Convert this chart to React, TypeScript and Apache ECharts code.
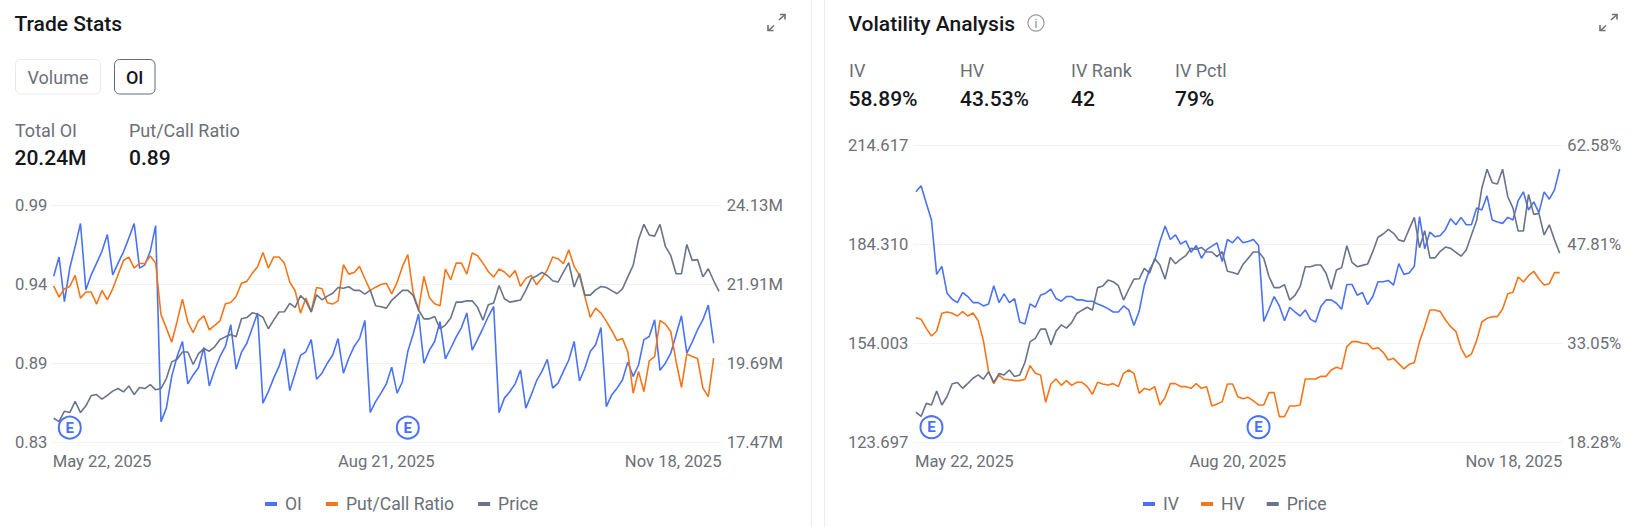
import React, { useEffect, useRef } from "react";
import * as echarts from "echarts";

const FONT = "Roboto";
const BLUE = "#4a72f5";
const ORANGE = "#f5761a";
const SLATE = "#69738a";
const MUTED = "#6b6f76";
const INK = "#14161a";
const GRID = "#f1f2f3";
const TICK_SIZE = 16.6;

const price = [
  132.9, 131.6, 135.6, 135.1, 139.4, 135.1, 137.7, 141.6, 142.0, 140.2, 141.7, 143.3, 144.3, 143.0, 145.3, 142.0, 144.7, 144.3, 145.8, 143.8,
  144.3, 148.1, 154.5, 155.5, 158.3, 158.3, 153.5, 157.7, 159.6, 158.6, 160.3, 163.1, 164.1, 165.0, 164.1, 171.0, 171.5, 173.3, 172.8, 171.6,
  167.2, 170.5, 173.6, 173.7, 176.9, 175.4, 179.9, 177.9, 173.6, 180.2, 178.3, 179.7, 180.8, 183.0, 182.7, 183.3, 181.9, 181.9, 180.5, 182.0,
  176.0, 175.6, 175.1, 178.1, 180.0, 181.9, 181.9, 180.0, 174.4, 171.0, 171.0, 171.9, 167.2, 168.6, 171.3, 177.4, 177.4, 177.9, 177.9, 175.4,
  170.5, 176.4, 177.1, 183.8, 178.7, 177.4, 177.8, 178.2, 182.0, 186.4, 187.4, 188.8, 187.6, 185.6, 185.1, 188.9, 192.5, 183.2, 188.4, 180.1,
  180.1, 182.1, 183.4, 183.0, 181.8, 180.6, 182.5, 187.1, 191.5, 201.4, 207.2, 203.1, 202.7, 207.2, 198.8, 195.3, 188.3, 188.3, 199.5, 193.4,
  193.7, 187.1, 190.2, 185.6, 181.5,
];

const openInterest = [
  22.13, 22.67, 21.42, 22.36, 22.97, 23.61, 21.75, 22.17, 22.5, 22.83, 23.3, 22.17, 22.5, 22.81, 23.2, 23.61, 22.36, 22.45, 22.83, 23.55,
  18.05, 18.43, 19.32, 19.88, 20.3, 19.11, 19.36, 19.57, 20.13, 19.05, 19.5, 19.88, 20.16, 20.77, 19.52, 20.0, 20.25, 20.67, 21.1, 18.57,
  18.89, 19.27, 19.6, 20.09, 18.92, 19.41, 19.91, 20.01, 20.35, 19.24, 19.41, 19.69, 19.92, 20.38, 19.41, 19.83, 20.16, 20.38, 20.89, 18.31,
  18.61, 18.85, 19.11, 19.58, 18.85, 19.17, 20.02, 20.51, 21.07, 19.69, 20.05, 20.3, 20.86, 19.81, 20.11, 20.42, 20.69, 21.1, 20.06, 20.36,
  20.67, 21.0, 21.28, 18.3, 18.71, 18.89, 19.11, 19.5, 18.43, 18.8, 19.2, 19.46, 19.8, 18.99, 19.13, 19.46, 19.78, 20.3, 19.19, 19.55,
  20.02, 20.21, 20.69, 18.47, 18.8, 18.99, 19.22, 19.72, 19.32, 19.64, 20.35, 20.44, 20.91, 19.49, 19.69, 19.97, 20.49, 21.02, 19.97, 20.28,
  20.63, 20.91, 21.32, 20.25,
];

const putCallRatio = [
  0.9355, 0.9279, 0.9335, 0.9351, 0.9425, 0.9272, 0.9313, 0.9313, 0.9232, 0.9324, 0.9261, 0.9335, 0.943, 0.9526, 0.9549, 0.9475, 0.9506, 0.9506, 0.9556, 0.9508,
  0.916, 0.907, 0.8975, 0.9115, 0.9265, 0.911, 0.904, 0.9121, 0.9153, 0.9058, 0.9088, 0.9119, 0.9234, 0.9243, 0.9283, 0.9373, 0.9385, 0.9439, 0.9484, 0.958,
  0.9475, 0.9549, 0.9549, 0.9508, 0.938, 0.9322, 0.9171, 0.9272, 0.9182, 0.9344, 0.9335, 0.9241, 0.9232, 0.9254, 0.9497, 0.9434, 0.9445, 0.9486, 0.9403, 0.9324,
  0.9346, 0.9364, 0.9373, 0.9301, 0.9378, 0.9486, 0.9565, 0.9306, 0.9193, 0.9418, 0.9277, 0.9234, 0.922, 0.9468, 0.9396, 0.9508, 0.9508, 0.9434, 0.9576, 0.9558,
  0.9508, 0.9452, 0.9414, 0.9468, 0.9448, 0.9414, 0.9459, 0.9351, 0.9405, 0.9425, 0.9362, 0.9407, 0.9463, 0.9549, 0.9538, 0.9504, 0.9598, 0.9486, 0.9425, 0.9283,
  0.9142, 0.9205, 0.9171, 0.9115, 0.9054, 0.8986, 0.9, 0.891, 0.8631, 0.8777, 0.8642, 0.8849, 0.8878, 0.9121, 0.9097, 0.9047, 0.8845, 0.8671, 0.8896, 0.8878,
  0.8865, 0.8665, 0.8608, 0.8867,
];

const impliedVol = [
  55.6, 56.5, 53.9, 51.4, 43.3, 44.5, 40.5, 39.6, 39.1, 40.6, 40.0, 39.1, 39.1, 38.6, 38.9, 41.6, 39.1, 40.4, 39.1, 39.7,
  36.2, 35.9, 38.9, 38.4, 40.2, 40.5, 41.1, 39.7, 39.3, 40.0, 40.0, 39.5, 39.5, 39.3, 39.3, 38.9, 38.6, 38.2, 37.7, 37.7,
  38.6, 38.0, 35.7, 37.8, 41.7, 44.0, 45.4, 48.2, 50.5, 48.5, 49.2, 47.8, 48.3, 46.6, 47.6, 45.7, 47.0, 47.5, 48.0, 45.2,
  48.5, 48.0, 48.9, 48.0, 48.2, 48.5, 47.6, 36.3, 38.1, 40.0, 38.6, 36.4, 38.4, 37.7, 37.1, 38.0, 36.6, 36.2, 38.5, 39.5,
  39.5, 39.0, 38.1, 41.8, 41.8, 40.2, 40.6, 38.8, 40.0, 42.2, 42.2, 42.4, 41.7, 44.9, 43.3, 43.5, 44.5, 51.9, 47.1, 49.6,
  48.9, 49.1, 50.0, 51.6, 50.7, 51.8, 50.7, 50.7, 53.2, 52.9, 55.0, 51.4, 51.1, 50.9, 51.8, 51.4, 54.3, 55.6, 52.9, 54.1,
  52.5, 55.6, 54.5, 55.9, 59.0,
];

const historicalVol = [
  36.85, 36.6, 35.26, 34.12, 34.87, 37.5, 37.7, 37.5, 37.1, 37.75, 37.1, 37.55, 36.4, 33.43, 28.8, 27.02, 28.3, 27.67, 27.6, 27.47,
  27.47, 27.67, 29.7, 28.56, 28.3, 24.24, 26.97, 27.72, 26.77, 27.47, 26.77, 27.22, 27.22, 26.57, 25.43, 27.22, 26.97, 26.82, 27.02, 26.57,
  28.56, 29.06, 28.56, 25.58, 26.32, 26.08, 26.57, 23.84, 24.98, 27.02, 27.02, 26.57, 26.57, 26.32, 27.02, 26.32, 26.57, 23.69, 23.99, 24.34,
  26.97, 26.97, 25.08, 24.78, 24.98, 24.44, 23.84, 23.84, 25.68, 25.68, 22.1, 22.1, 23.69, 23.69, 23.84, 27.72, 27.72, 27.72, 28.11, 28.11,
  29.06, 29.45, 29.21, 32.53, 33.28, 33.28, 33.03, 32.98, 32.18, 32.38, 31.69, 30.55, 30.79, 30.0, 29.21, 29.9, 30.15, 33.28, 35.51, 37.99,
  37.99, 37.75, 36.51, 35.51, 34.82, 32.28, 30.94, 31.44, 33.43, 36.21, 36.75, 37.0, 37.0, 38.14, 40.43, 40.63, 42.91, 42.17, 43.11, 43.76,
  42.61, 41.72, 41.92, 43.56, 43.56,
];

const monthNames = ["Jan", "Feb", "Mar", "Apr", "May", "Jun", "Jul", "Aug", "Sep", "Oct", "Nov", "Dec"];
const marketHolidays = ["2025-05-26", "2025-06-19", "2025-07-04", "2025-09-01"];

function tradingDays(): string[] {
  const out: string[] = [];
  const d = new Date(Date.UTC(2025, 4, 22));
  const end = Date.UTC(2025, 10, 18);
  while (d.getTime() <= end) {
    const wd = d.getUTCDay();
    if (wd !== 0 && wd !== 6 && !marketHolidays.includes(d.toISOString().slice(0, 10))) {
      out.push(`${monthNames[d.getUTCMonth()]} ${d.getUTCDate()}, ${d.getUTCFullYear()}`);
    }
    d.setUTCDate(d.getUTCDate() + 1);
  }
  return out;
}

const tradeDates = tradingDays();
const volDates = tradeDates.map((s, i) => (i === 62 ? "Aug 20, 2025" : s));
const shownDateIndexes = [0, 62, 124];
const earningsIndexes = [3, 66];

const putCallTicks = [0.83, 0.88333, 0.93667, 0.99];
const putCallLabels = ["0.83", "0.89", "0.94", "0.99"];
const oiTicks = [17.47, 19.69, 21.91, 24.13];
const oiLabels = ["17.47M", "19.69M", "21.91M", "24.13M"];
const priceTicks = [123.697, 154.003, 184.31, 214.617];
const priceLabels = ["123.697", "154.003", "184.310", "214.617"];
const volTicks = [18.28, 33.05, 47.81, 62.58];
const volLabels = ["18.28%", "33.05%", "47.81%", "62.58%"];

function yAxis(gridIndex: number, position: string, ticks: number[], labels: string[], split: boolean, margin: number, align: string) {
  return {
    type: "value",
    gridIndex,
    position,
    min: ticks[0],
    max: ticks[ticks.length - 1],
    axisLine: { show: false },
    axisTick: { show: false, customValues: ticks },
    splitLine: { show: split, lineStyle: { color: GRID, width: 1 } },
    axisLabel: {
      customValues: ticks,
      formatter: (v: number) => {
        let best = 0;
        ticks.forEach((t, i) => {
          if (Math.abs(t - v) < Math.abs(ticks[best] - v)) best = i;
        });
        return labels[best];
      },
      color: MUTED,
      fontFamily: FONT,
      fontSize: TICK_SIZE,
      margin,
      align,
      verticalAlign: "middle",
      padding: [5, 0, 0, 0],
    },
  };
}

function xAxis(gridIndex: number, data: string[]) {
  const tickStyle = { color: MUTED, fontFamily: FONT, fontSize: TICK_SIZE };
  return {
    type: "category",
    gridIndex,
    data,
    boundaryGap: true,
    axisLine: { show: false },
    axisTick: { show: false },
    splitLine: { show: false },
    axisLabel: {
      interval: (i: number) => shownDateIndexes.includes(i),
      ...tickStyle,
      margin: 11,
      alignMinLabel: "left",
      alignMaxLabel: "right",
      showMinLabel: true,
      showMaxLabel: true,
      formatter: (v: string, i: number) => {
        if (i === 0) return `{first|${v}}`;
        if (i === data.length - 1) return `{last|${v}}`;
        return v;
      },
      rich: {
        first: { ...tickStyle, padding: [0, 0, 0, -1] },
        last: { ...tickStyle, padding: [0, -2.5, 0, 0] },
      },
    },
  };
}

function line(name: string, data: number[], color: string, xAxisIndex: number, yAxisIndex: number) {
  return {
    type: "line",
    name,
    data,
    xAxisIndex,
    yAxisIndex,
    symbol: "none",
    smooth: false,
    lineStyle: { color, width: 1.6 },
    itemStyle: { color },
    z: 3,
  };
}

function earnings(xAxisIndex: number, yAxisIndex: number, level: number) {
  return {
    type: "scatter",
    name: "Earnings",
    xAxisIndex,
    yAxisIndex,
    data: earningsIndexes.map((i) => [i, level]),
    symbol: "circle",
    symbolSize: 22,
    itemStyle: { color: "#ffffff", borderColor: BLUE, borderWidth: 2, opacity: 1 },
    label: { show: true, position: "inside", formatter: "E", color: BLUE, fontFamily: FONT, fontSize: 15, fontWeight: 700 },
    z: 5,
  };
}

function legend(items: string[], left: number, itemGap: number) {
  return {
    data: items,
    left,
    top: 495,
    padding: 0,
    orient: "horizontal",
    icon: "rect",
    itemWidth: 12,
    itemHeight: 4,
    itemGap,
    selectedMode: false,
    textStyle: { color: MUTED, fontFamily: FONT, fontSize: 17.6, padding: [0, 0, 0, 3] },
  };
}

function text(str: string, x: number, y: number, font: string, fill: string, align = "left") {
  return {
    type: "text",
    x,
    y,
    silent: true,
    style: { text: str, fill, font, textAlign: align, textVerticalAlign: "middle" },
  };
}

function expandIcon(dx: number) {
  const stroke = { stroke: "#6f6f6f", lineWidth: 1.6, fill: "none" };
  return [
    { type: "line", x: dx, shape: { x1: 779, y1: 20, x2: 784.5, y2: 15 }, style: stroke },
    { type: "polyline", x: dx, shape: { points: [[780, 14.5], [785, 14.5], [785, 19.5]] }, style: stroke },
    { type: "line", x: dx, shape: { x1: 774, y1: 25.5, x2: 768.5, y2: 30.5 }, style: stroke },
    { type: "polyline", x: dx, shape: { points: [[768, 25], [768, 30.5], [773.5, 30.5]] }, style: stroke },
  ];
}

const TITLE = `500 21px ${FONT}`;
const LABEL = `400 18px ${FONT}`;
const VALUE = `500 21px ${FONT}`;

function buildOption() {
  return {
    animation: false,
    backgroundColor: "#ffffff",
    grid: [
      { left: 51, top: 205, width: 670.7, height: 237.3, containLabel: false },
      { left: 913.3, top: 145, width: 649, height: 297.3, containLabel: false },
    ],
    xAxis: [xAxis(0, tradeDates), xAxis(1, volDates)],
    yAxis: [
      yAxis(0, "left", putCallTicks, putCallLabels, true, 36, "left"),
      yAxis(0, "right", oiTicks, oiLabels, false, 5, "left"),
      { ...yAxis(0, "left", priceTicks, priceLabels, false, 5, "right"), show: false },
      yAxis(1, "left", priceTicks, priceLabels, true, 5, "right"),
      yAxis(1, "right", volTicks, volLabels, false, 5, "left"),
    ],
    legend: [legend(["OI", "Put/Call Ratio", "Price"], 265, 24), legend(["IV", "HV", "Price"], 1143, 22)],
    series: [
      line("OI", openInterest, BLUE, 0, 1),
      line("Put/Call Ratio", putCallRatio, ORANGE, 0, 0),
      line("Price", price, SLATE, 0, 2),
      earnings(0, 2, 129.3),
      line("IV", impliedVol, BLUE, 1, 4),
      line("HV", historicalVol, ORANGE, 1, 4),
      line("Price", price, SLATE, 1, 3),
      earnings(1, 3, 128.3),
    ],
    graphic: [
      { type: "rect", shape: { x: 811, y: 0, width: 1, height: 527 }, style: { fill: "#eeeeee" }, silent: true },
      { type: "rect", shape: { x: 824, y: 0, width: 1, height: 527 }, style: { fill: "#eeeeee" }, silent: true },
      text("Trade Stats", 14.5, 24, TITLE, INK),
      ...expandIcon(0),
      { type: "rect", shape: { x: 15.5, y: 59.5, width: 85, height: 34.5, r: 5 }, style: { fill: "#fff", stroke: "#e9eaec", lineWidth: 1 } },
      text("Volume", 58, 77, LABEL, MUTED, "center"),
      { type: "rect", shape: { x: 114.5, y: 59.5, width: 40.5, height: 34.5, r: 5 }, style: { fill: "#fff", stroke: "#5f6a86", lineWidth: 1 } },
      text("OI", 134.7, 77, `500 18px ${FONT}`, INK, "center"),
      text("Total OI", 15, 130, LABEL, MUTED),
      text("20.24M", 14.5, 157.5, VALUE, INK),
      text("Put/Call Ratio", 129, 130, LABEL, MUTED),
      text("0.89", 129, 157.5, VALUE, INK),
      text("Volatility Analysis", 848.5, 24, TITLE, INK),
      { type: "circle", shape: { cx: 1036, cy: 23, r: 8 }, style: { fill: "none", stroke: "#9b9b9b", lineWidth: 1.2 } },
      text("i", 1036, 23.5, `400 12px ${FONT}`, "#8a8a8a", "center"),
      ...expandIcon(832),
      text("IV", 849, 70, LABEL, MUTED),
      text("58.89%", 848.5, 99, VALUE, INK),
      text("HV", 960, 70, LABEL, MUTED),
      text("43.53%", 960, 99, VALUE, INK),
      text("IV Rank", 1071, 70, LABEL, MUTED),
      text("42", 1071, 99, VALUE, INK),
      text("IV Pctl", 1175, 70, LABEL, MUTED),
      text("79%", 1175, 99, VALUE, INK),
    ],
  };
}

export default function App() {
  const ref = useRef<HTMLDivElement>(null);
  useEffect(() => {
    document.body.style.margin = "0";
    const chart = echarts.init(ref.current as HTMLDivElement, undefined, { renderer: "svg" });
    chart.setOption(buildOption() as any);
    return () => chart.dispose();
  }, []);
  return <div ref={ref} style={{ width: 1630, height: 527, display: "block" }} />;
}
